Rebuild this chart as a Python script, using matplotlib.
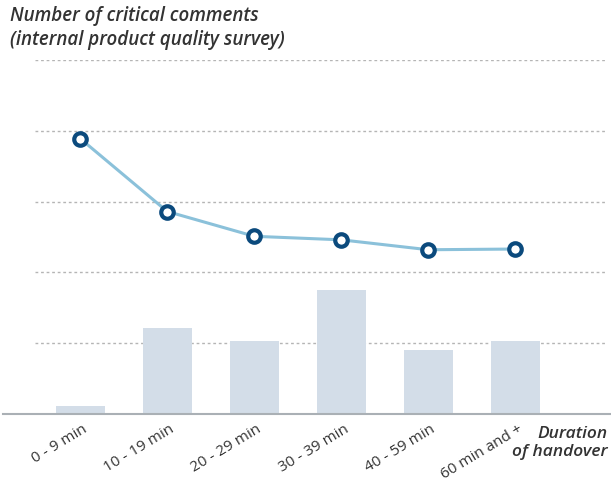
import matplotlib.pyplot as plt
import matplotlib.transforms as mtransforms

# data
categories = ['0 - 9 min', '10 - 19 min', '20 - 29 min', '30 - 39 min', '40 - 59 min', '60 min and +']
bar_values = [0.11, 1.21, 1.03, 1.75, 0.90, 1.03]
line_values = [3.89, 2.86, 2.51, 2.46, 2.32, 2.33]

plt.rcParams['font.family'] = ['Open Sans', 'DejaVu Sans']

fig = plt.figure(figsize=(6.11, 4.82), dpi=100)
ax = fig.add_axes([35 / 611, 68 / 482, 570 / 611, 354 / 482])

x = list(range(len(categories)))
ax.bar(x, bar_values, width=0.56, color='#d3dde8', zorder=2)
ax.plot(x, line_values, color='#8bc1da', lw=2.2, zorder=3,
        marker='o', ms=9, mfc='white', mec='#0b4a7d', mew=3)

ax.set_xlim(-0.52, 6.03)
ax.set_ylim(0, 5)
ax.set_yticks([1, 2, 3, 4, 5])
ax.yaxis.grid(True, linestyle=(0, (2, 2)), color='#b5b5b5', lw=1)
ax.tick_params(axis='y', left=False, labelleft=False)
for s in ax.spines.values():
    s.set_visible(False)

# baseline extends to the figure edges
fig.add_artist(plt.Line2D([3 / 611, 1], [68 / 482, 68 / 482], color='#aab0b5', lw=1.5))

ax.set_xticks(x)
ax.set_xticklabels(categories, rotation=31, ha='right', va='center', rotation_mode='anchor',
                   fontsize=11, color='#333333')
ax.tick_params(axis='x', bottom=False, pad=7)
offset = mtransforms.ScaledTranslation(6 / 100, 0, fig.dpi_scale_trans)
for lab in ax.get_xticklabels():
    lab.set_transform(lab.get_transform() + offset)

fig.text(10 / 611, 1 - 6 / 482, 'Number of critical comments\n(internal product quality survey)',
         fontsize=13.5, style='italic', fontweight='semibold', color='#333333',
         va='top', linespacing=1.25)
fig.text(608 / 611, 1 - 443 / 482, 'Duration\nof handover', fontsize=12.5,
         style='italic', fontweight='semibold', color='#333333', ha='right', va='center',
         linespacing=1.2)

fig.savefig('out.png', dpi=100)
